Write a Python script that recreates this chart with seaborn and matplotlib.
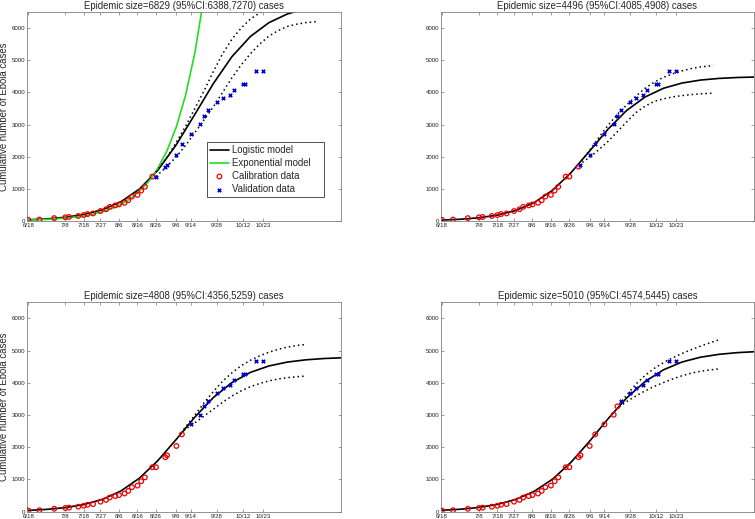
import matplotlib

matplotlib.use("Agg")
import matplotlib.pyplot as plt
import seaborn as sns

sns.set_style("white")
plt.rcParams["font.family"] = ["Liberation Sans", "DejaVu Sans"]

# observed cumulative cases, day 0 = 6/18
days = [0, 6, 14, 20, 22, 27, 30, 32, 35, 39, 42, 44, 47, 49, 52, 54, 56, 59,
        61, 63, 67, 69, 74, 75, 80, 83, 88, 93, 95, 97, 102, 105, 109, 111,
        116, 117, 123, 127]
cases = [35, 45, 90, 115, 125, 155, 185, 215, 235, 310, 365, 440, 485, 515,
         565, 645, 760, 810, 945, 1065, 1380, 1380, 1690, 1750, 2040, 2400,
         2710, 3010, 3270, 3450, 3700, 3840, 3920, 4080, 4260, 4260, 4670, 4670]

tick_days = [0, 20, 30, 39, 49, 59, 69, 80, 88, 102, 116, 127]
tick_labels = ["6/18", "7/8", "7/18", "7/27", "8/6", "8/16", "8/26", "9/6",
               "9/14", "9/28", "10/12", "10/23"]

titles = [
    "Epidemic size=6829 (95%CI:6388,7270) cases",
    "Epidemic size=4496 (95%CI:4085,4908) cases",
    "Epidemic size=4808 (95%CI:4356,5259) cases",
    "Epidemic size=5010 (95%CI:4574,5445) cases",
]
calib_last_day = [67, 74, 83, 95]

# fitted logistic curves
model_days = list(range(0, 171, 10))
logistic = [
    [37, 66, 116, 202, 350, 597, 991, 1580, 2374, 3317, 4274, 5108, 5738,
     6167, 6439, 6603, 6700, 6755],
    [29, 54, 100, 183, 328, 574, 961, 1510, 2178, 2860, 3437, 3857, 4128,
     4290, 4383, 4434, 4463, 4478],
    [40, 72, 126, 222, 382, 642, 1038, 1585, 2248, 2936, 3543, 4006, 4324,
     4524, 4645, 4715, 4756, 4779],
    [44, 76, 132, 226, 383, 634, 1014, 1541, 2191, 2888, 3529, 4041, 4406,
     4647, 4796, 4885, 4938, 4969],
]

# exponential model (first panel only)
exp_days = list(range(0, 96, 5))
exp_vals = [28, 38, 50, 68, 90, 121, 161, 215, 288, 385, 514, 687, 918, 1227,
            1640, 2192, 2929, 3914, 5231, 6991]

# 95% CI curves
ci_days = [
    [69, 75, 80, 85, 90, 95, 100, 105, 110, 115, 120, 125, 130, 135, 140, 145, 150, 157],
    [74, 80, 85, 90, 95, 100, 105, 110, 115, 120, 125, 130, 135, 140, 147],
    [84, 90, 95, 100, 105, 110, 115, 120, 125, 130, 135, 140, 145, 150],
    [96, 100, 105, 110, 115, 120, 125, 130, 135, 140, 145, 151],
]
ci_upper = [
    [1520, 1980, 2450, 2950, 3500, 4050, 4650, 5200, 5650, 6000, 6280, 6470,
     6620, 6720, 6800, 6860, 6900, 6930],
    [1760, 2200, 2600, 2980, 3320, 3610, 3880, 4130, 4320, 4470, 4580, 4670,
     4740, 4790, 4835],
    [2560, 3000, 3380, 3730, 4050, 4310, 4530, 4700, 4840, 4950, 5040, 5110,
     5160, 5190],
    [3320, 3620, 3960, 4230, 4450, 4630, 4780, 4910, 5030, 5140, 5240, 5355],
]
ci_lower = [
    [1380, 1700, 2000, 2350, 2750, 3150, 3550, 4000, 4450, 4850, 5200, 5500,
     5750, 5920, 6050, 6120, 6170, 6205],
    [1740, 1980, 2220, 2480, 2780, 3080, 3370, 3570, 3720, 3800, 3860, 3900,
     3930, 3955, 3975],
    [2520, 2760, 2970, 3180, 3400, 3590, 3750, 3880, 3980, 4060, 4120, 4160,
     4190, 4210],
    [3250, 3420, 3590, 3750, 3890, 4010, 4120, 4220, 4300, 4360, 4400, 4440],
]

fig = plt.figure(figsize=(7.55, 5.19), dpi=100)
positions = [
    [0.0358, 0.5742, 0.4159, 0.4027],
    [0.5837, 0.5742, 0.4150, 0.4027],
    [0.0358, 0.0141, 0.4159, 0.4034],
    [0.5837, 0.0141, 0.4150, 0.4034],
]

for i, pos in enumerate(positions):
    ax = fig.add_axes(pos)
    split = days.index(calib_last_day[i]) + 1

    sns.lineplot(x=model_days, y=logistic[i], ax=ax, color="k", lw=1.2,
                 errorbar=None, legend=False, label="Logistic model")
    if i == 0:
        sns.lineplot(x=exp_days, y=exp_vals, ax=ax, color="#22dd22", lw=1.2,
                     errorbar=None, legend=False, label="Exponential model")
    for band in (ci_upper[i], ci_lower[i]):
        sns.lineplot(x=ci_days[i], y=band, ax=ax, color="k", lw=1.1,
                     linestyle=(0, (1, 2)), errorbar=None, legend=False)
    sns.scatterplot(x=days[:split], y=cases[:split], ax=ax, marker="o", s=11,
                    color="#ee0000", facecolor="none", edgecolor="#ee0000",
                    linewidth=0.9, legend=False, label="Calibration data",
                    zorder=3)
    sns.scatterplot(x=days[split:], y=cases[split:], ax=ax, marker="x", s=6,
                    color="#0000dd", linewidth=1.2, legend=False,
                    label="Validation data", zorder=3)

    ax.set_xlim(-0.7, 169)
    ax.set_ylim(0, 6500)
    ax.set_xticks(tick_days)
    ax.set_xticklabels(tick_labels)
    ax.set_yticks(range(0, 6001, 1000))
    ax.tick_params(direction="in", length=2.5, width=0.5, colors="#777777",
                   labelcolor="#222222", labelsize=4.4, pad=1.2,
                   bottom=True, left=True, top=True, right=True)
    ax.tick_params(axis="x", pad=1.8)
    for spine in ax.spines.values():
        spine.set_color("#808080")
        spine.set_linewidth(0.6)
    ax.set_title(titles[i], fontsize=6.9, pad=2.5)
    ax.set_xlabel("")
    if i % 2 == 0:
        ax.set_ylabel("Cumulative number of Ebola cases", fontsize=6.9)
        ax.yaxis.set_label_coords(-0.058, 0.5)
    else:
        ax.set_ylabel("")

    if i == 0:
        handles, labels = ax.get_legend_handles_labels()
        leg = ax.legend(handles, labels, loc="lower right",
                        bbox_to_anchor=(0.573, 0.115, 0.373, 0.26),
                        mode="expand", fontsize=6.9,
                        frameon=True, fancybox=False, framealpha=1,
                        edgecolor="#333333", borderpad=0.3, labelspacing=0.32,
                        handlelength=2.0, handletextpad=0.3, borderaxespad=0,
                        scatterpoints=1)
        leg.get_frame().set_linewidth(0.6)

fig.savefig("out.png", dpi=100)
